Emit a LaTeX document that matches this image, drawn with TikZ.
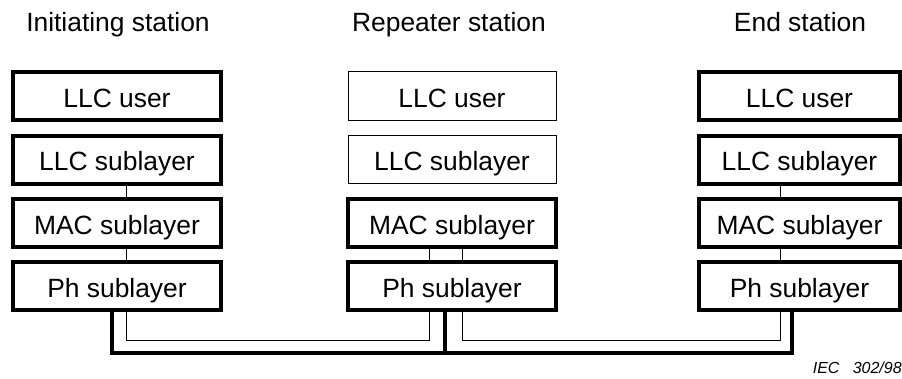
\documentclass[tikz,border=0pt]{standalone}
\usepackage{fontspec}
\setmainfont{Liberation Sans}
\begin{document}
\begin{tikzpicture}[x=0.75pt,y=-0.75pt,
  layerbox/.style={draw, line width=3pt, outer sep=0pt, inner sep=0pt,
    minimum width=156pt, minimum height=36pt,
    font=\fontsize{19.8}{22}\selectfont, text height=17pt, text depth=0pt},
  thinbox/.style={layerbox, line width=0.75pt},
  rightbox/.style={layerbox, minimum width=150.75pt},
  title/.style={anchor=base, inner sep=0pt, font=\fontsize{19.8}{22}\selectfont},
  thinline/.style={line width=0.75pt},
  thickline/.style={line width=3.6pt}]
\useasboundingbox (0,0) rectangle (902,378);

% titles
\node[title] (tL) at (118,32) {Initiating station};
\node[title] (tR) at (449,32) {Repeater station};
\node[title] (tE) at (800,32) {End station};

% initiating station
\node[layerbox] (L1) at (117,96)    {LLC user};
\node[layerbox] (L2) at (117,159.5) {LLC sublayer};
\node[layerbox] (L3) at (117,223)   {MAC sublayer};
\node[layerbox] (L4) at (117,286)   {Ph sublayer};

% repeater station
\node[thinbox]  (R1) at (452,96)    {LLC user};
\node[thinbox]  (R2) at (452,159)   {LLC sublayer};
\node[layerbox] (R3) at (452,223)   {MAC sublayer};
\node[layerbox] (R4) at (452,286)   {Ph sublayer};

% end station
\node[rightbox] (E1) at (799.5,96)    {LLC user};
\node[rightbox] (E2) at (799.5,159.5) {LLC sublayer};
\node[rightbox] (E3) at (799.5,223)   {MAC sublayer};
\node[rightbox] (E4) at (799.5,286)   {Ph sublayer};

% x positions of the links
\coordinate (xl) at (126,0);
\coordinate (xr1) at (429,0);
\coordinate (xr2) at (462,0);
\coordinate (xe) at (780,0);

% links between layers
\draw[thinline] (L2.south -| xl) -- (L3.north -| xl);
\draw[thinline] (L3.south -| xl) -- (L4.north -| xl);
\draw[thinline] (R3.south -| xr1) -- (R4.north -| xr1);
\draw[thinline] (R3.south -| xr2) -- (R4.north -| xr2);
\draw[thinline] (E2.south -| xe) -- (E3.north -| xe);
\draw[thinline] (E3.south -| xe) -- (E4.north -| xe);

% thin links below
\coordinate (ta) at (126,340);
\coordinate (tb) at (429,340);
\coordinate (tc) at (462,340);
\coordinate (td) at (780,340);
\draw[thinline] (L4.south -| ta) -- (ta) -- (tb) -- (R4.south -| tb);
\draw[thinline] (R4.south -| tc) -- (tc) -- (td) -- (E4.south -| td);

% thick medium
\coordinate (ba) at (112,353);
\coordinate (bm) at (445,353);
\coordinate (bb) at (792,353);
\draw[thickline] (L4.south -| ba) -- (ba) -- (bb) -- (E4.south -| bb);
\draw[thickline] (R4.south -| bm) -- (bm);

% reference
\node[anchor=base east, inner sep=0pt, font=\fontsize{12}{14}\selectfont\itshape]
  (iec) at (902,373) {IEC\hspace{10pt}302/98};
\end{tikzpicture}
\end{document}
